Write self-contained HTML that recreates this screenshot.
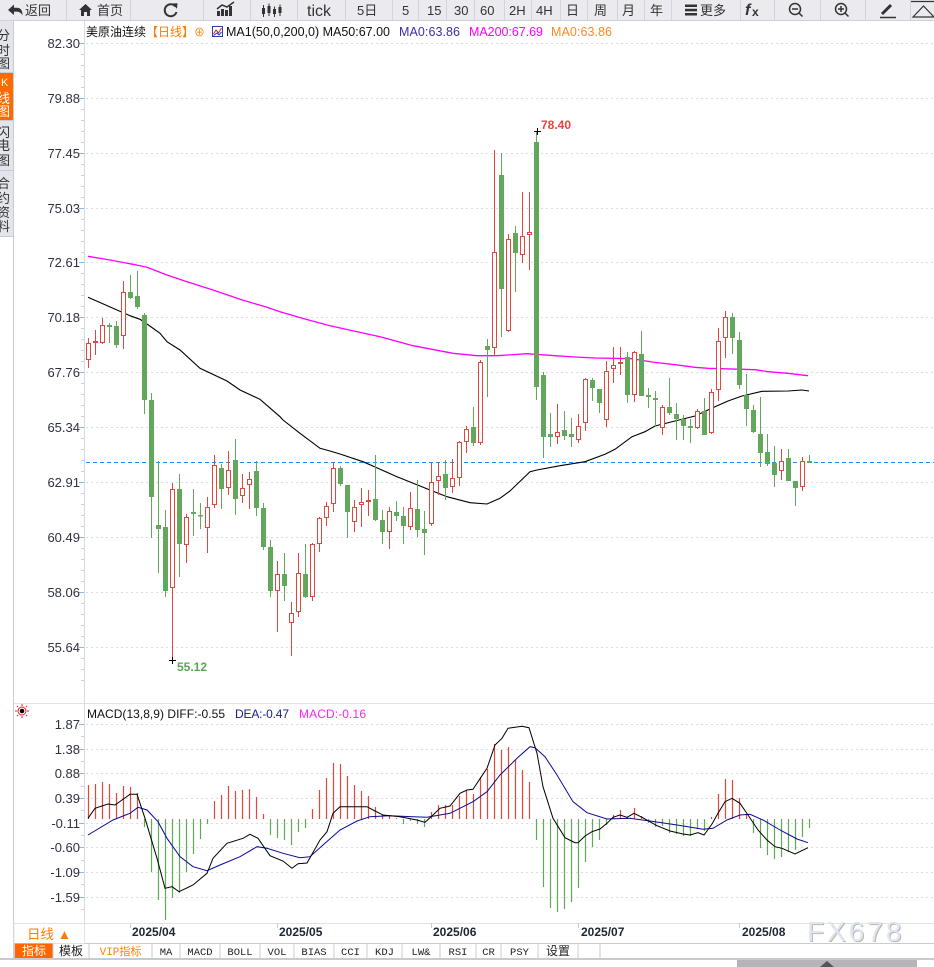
<!DOCTYPE html>
<html><head><meta charset="utf-8"><style>
html,body{margin:0;padding:0;background:#fff;}
body{width:934px;height:967px;overflow:hidden;}
svg{display:block;}
text{font-family:"Liberation Sans","Noto Sans CJK SC",sans-serif;}
.mono{font-family:"Liberation Mono","Noto Sans CJK SC",monospace;}
</style></head><body>
<svg width="934" height="967" viewBox="0 0 934 967" xmlns="http://www.w3.org/2000/svg">
<!-- toolbar -->
<rect x="0" y="0" width="934" height="20" fill="#ebebef"/>
<line x1="0" y1="20.5" x2="934" y2="20.5" stroke="#cfd0d8"/>
<g stroke="#d2d3db" stroke-width="1">
<path d="M66.5 0V20M130.5 0V20M203.5 0V20M250.5 0V20M297.5 0V20M345.5 0V20M392.5 0V20M418.5 0V20M446.5 0V20M474.5 0V20M504.5 0V20M531.5 0V20M560.5 0V20M587.5 0V20M617.5 0V20M644.5 0V20M671.5 0V20M740.5 0V20M774.5 0V20M820.5 0V20M865.5 0V20M910.5 0V20"/>
</g>
<g fill="#333">
<path d="M8 10 L14 4.5 V7.8 H17 Q22.5 8 22.5 15.5 Q20.5 11.6 17 11.6 H14 V15 Z"/>
<path d="M79 10 L85.5 4 L92 10 H90 V16 H87 V12 H84 V16 H81 V10 Z"/>
<rect x="217" y="11" width="3" height="5"/><rect x="221" y="9" width="3" height="7"/><rect x="225" y="10" width="3" height="6"/><rect x="229" y="6" width="3" height="10"/>
<rect x="262" y="8" width="3" height="6"/><rect x="267.5" y="6" width="3" height="7"/><rect x="273" y="9" width="3" height="5"/><rect x="278.5" y="7" width="3" height="6"/>
<rect x="685" y="4.5" width="12" height="2.5"/><rect x="685" y="8.8" width="12" height="2.5"/><rect x="685" y="13" width="12" height="2.5"/>
<path d="M172 3.5 L177.5 3.2 L177 8.8 Z"/>
</g>
<g stroke="#333" fill="none">
<polyline points="217,9 222,5 227,7 234,2" stroke-width="1.5"/>
<path d="M263.5 5V17M269 3.5V16M274.5 6.5V17M280 4.5V16" stroke-width="1"/>
<path d="M175.5 6.5 A6 6 0 1 0 176.5 12" stroke-width="2"/>
<circle cx="795" cy="9" r="5.5" stroke-width="1.5"/><path d="M792 9H798M799 13L802.5 16.5" stroke-width="1.5"/>
<circle cx="841" cy="9" r="5.5" stroke-width="1.5"/><path d="M838 9H844M841 6V12M845 13L848.5 16.5" stroke-width="1.5"/>
<path d="M882 14L891 5" stroke-width="3"/><path d="M880 17.5H896" stroke-width="1.5"/>
<polygon points="913,17 923.5,6 934,17" stroke-width="1.2"/><path d="M911 1.5H934" stroke-width="1.2"/>
</g>
<g font-size="13" fill="#333">
<text x="25" y="15">返回</text>
<text x="97" y="15">首页</text>
<text x="307" y="16" font-size="16">tick</text>
<text x="357" y="15">5日</text>
<text x="402" y="15">5</text>
<text x="427" y="15">15</text>
<text x="454" y="15">30</text>
<text x="480" y="15">60</text>
<text x="509" y="15">2H</text>
<text x="536" y="15">4H</text>
<text x="566" y="15">日</text>
<text x="594" y="15">周</text>
<text x="622" y="15">月</text>
<text x="650" y="15">年</text>
<text x="700" y="15">更多</text>
<text x="745" y="15" font-family="Liberation Serif,serif" font-style="italic" font-weight="bold" font-size="16">f</text>
<text x="752" y="16" font-weight="bold" font-size="12">x</text>
</g>
<!-- left sidebar -->
<rect x="0" y="21" width="13" height="215" fill="#e4e4ec"/>
<rect x="0" y="73" width="13" height="47" fill="#ff6a00"/>
<g stroke="#c9cbd4"><path d="M0 72.5H13M0 120.5H13M0 170.5H13M0 236.5H13"/></g>
<line x1="13.5" y1="21" x2="13.5" y2="960" stroke="#c8ccd4"/>
<g font-size="13" fill="#333">
<text x="-3" y="40">分</text><text x="-3" y="55">时</text><text x="-3" y="68">图</text>
<text x="1" y="86" fill="#fff" font-size="11" font-family="Liberation Serif,serif">K</text><text x="-3" y="103" fill="#fff">线</text><text x="-3" y="116" fill="#fff">图</text>
<text x="-3" y="137">闪</text><text x="-3" y="150">电</text><text x="-3" y="165">图</text>
<text x="-3" y="188">合</text><text x="-3" y="203">约</text><text x="-3" y="217">资</text><text x="-3" y="231">料</text>
</g>
<!-- axis line -->
<line x1="84.5" y1="21" x2="84.5" y2="943" stroke="#d3dde8"/>
<!-- main grid -->
<g stroke="#dcdcdc" stroke-dasharray="2,3">
<path d="M86 43.5H934M86 98.5H934M86 153.5H934M86 208.5H934M86 262.5H934M86 317.5H934M86 372.5H934M86 427.5H934M86 482.5H934M86 537.5H934M86 592.5H934M86 647.5H934"/>
</g>
<g stroke="#c7d3df">
<path d="M81 54.5H84M81 65.5H84M81 76.5H84M81 87.5H84M81 109.5H84M81 120.5H84M81 131.5H84M81 142.5H84M81 164.5H84M81 175.5H84M81 186.5H84M81 197.5H84M81 219.5H84M81 230.5H84M81 241.5H84M81 252.5H84M81 273.5H84M81 284.5H84M81 295.5H84M81 306.5H84M81 328.5H84M81 339.5H84M81 350.5H84M81 361.5H84M81 383.5H84M81 394.5H84M81 405.5H84M81 416.5H84M81 438.5H84M81 449.5H84M81 460.5H84M81 471.5H84M81 493.5H84M81 504.5H84M81 515.5H84M81 526.5H84M81 548.5H84M81 559.5H84M81 570.5H84M81 581.5H84M81 603.5H84M81 614.5H84M81 625.5H84M81 636.5H84M81 658.5H84M81 669.5H84M81 680.5H84"/>
</g>
<g stroke="#8fb6dc"><path d="M79 43.5H84M79 98.5H84M79 153.5H84M79 208.5H84M79 262.5H84M79 317.5H84M79 372.5H84M79 427.5H84M79 482.5H84M79 537.5H84M79 592.5H84M79 647.5H84"/></g>
<g font-size="13" fill="#2e3140" text-anchor="end">
<text x="80" y="48">82.30</text><text x="80" y="103">79.88</text><text x="80" y="158">77.45</text><text x="80" y="213">75.03</text><text x="80" y="267">72.61</text><text x="80" y="322">70.18</text><text x="80" y="377">67.76</text><text x="80" y="432">65.34</text><text x="80" y="487">62.91</text><text x="80" y="542">60.49</text><text x="80" y="597">58.06</text><text x="80" y="652">55.64</text>
</g>
<!-- legend -->
<g font-size="12.5">
<text x="86" y="36" font-size="12" textLength="60" fill="#111">美原油连续</text>
<text x="146" y="36" font-size="12" fill="#ff7a00">【日线】</text>
<text x="194" y="36" font-size="11" fill="#ff7a00">⊕</text>
<text x="226" y="36" fill="#111" textLength="164">MA1(50,0,200,0) MA50:67.00</text>
<text x="399" y="36" fill="#3a2ea8" textLength="61">MA0:63.86</text>
<text x="469" y="36" fill="#ff00ff" textLength="74">MA200:67.69</text>
<text x="551" y="36" fill="#ff8a1e" textLength="61">MA0:63.86</text>
</g>
<rect x="212.5" y="26.5" width="10" height="10" fill="#fff" stroke="#2244aa"/>
<polyline points="213.5,34 216,30 218.5,33 221.5,28" fill="none" stroke="#e02020"/>
<polyline points="213.5,35.5 217,33 219,35 221.5,32" fill="none" stroke="#2244cc"/>
<!-- dashed price line -->
<line x1="86" y1="462.5" x2="934" y2="462.5" stroke="#1a8cff" stroke-dasharray="4,3"/>
<!-- MA lines -->
<polyline fill="none" stroke="#ff00ff" stroke-width="1.3" points="88,256.3 110,260 133,264.3 147,267.3 167,275 187,281.7 213,290 240,299.3 267,307.3 280,311.7 305,319 330,325.7 380,336.7 413,345.7 453,353.3 477,355.7 497,355.7 527,353.7 555,355.7 575,357 595,358 632,358.7 652,362 675,364.7 695,367.3 708,368.3 755,369.7 768,371.7 788,373.3 808,375.7"/>
<polyline fill="none" stroke="#000" stroke-width="1.1" points="88,297.3 113,308.3 130,315.7 140,319.3 147,324 160,333.3 167,341.7 180,350 200,368.3 227,381 240,390 260,399.3 280,416.7 283,420 300,433.3 320,448.3 330,451 340,454 363,461.7 397,476.7 430,490 447,496.7 470,502.7 487,504 500,498.3 510,491 530,471.7 537,470 560,465.7 585,461.7 605,454.3 615,449.3 632,436.7 645,431.7 655,426 675,421 695,416 715,406.7 728,401 742,396 762,391.3 788,391 802,390 809,391"/>
<!-- green candles -->
<path fill="none" stroke="#62a75c" d="M109.5 323V343M116.5 321V348M130.5 275V299M137.5 271V309M144.5 313V414M151.5 393V538M158.5 461V573M165.5 510V597M179.5 474V577M193.5 489V536M200.5 503V529M221.5 464V509M235.5 439V515M256.5 461V516M263.5 503V550M270.5 540V597M284.5 553V601M305.5 544V598M340.5 466V486M347.5 485V538M375.5 455V521M382.5 510V544M396.5 501V521M403.5 507V544M417.5 480V537M424.5 511V555M445.5 460V500M473.5 407V446M487.5 339V397M501.5 153V337M515.5 226V292M536.5 132V400M543.5 372V458M550.5 413V447M564.5 411V440M571.5 418V447M592.5 378V401M599.5 389V413M627.5 352V403M641.5 331V396M648.5 388V408M655.5 391V427M669.5 378V415M676.5 403V440M683.5 415V440M690.5 419V443M704.5 398V435M732.5 313V354M739.5 332V389M746.5 374V426M753.5 405V433M760.5 397V467M767.5 434V466M774.5 446V487M788.5 449V481M795.5 481V506M809.5 455V463"/>
<g fill="#62a75c">
<rect x="107" y="325" width="5" height="2"/><rect x="114" y="326" width="5" height="19"/><rect x="128" y="292" width="5" height="6"/><rect x="135" y="296" width="5" height="11"/><rect x="142" y="315" width="5" height="85"/><rect x="149" y="400" width="5" height="97"/><rect x="156" y="525" width="5" height="4"/><rect x="163" y="527" width="5" height="64"/><rect x="177" y="489" width="5" height="55"/><rect x="191" y="512" width="5" height="2"/><rect x="198" y="515" width="5" height="1.5"/><rect x="219" y="468" width="5" height="21"/><rect x="233" y="460" width="5" height="39"/><rect x="254" y="471" width="5" height="37"/><rect x="261" y="508" width="5" height="39"/><rect x="268" y="547" width="5" height="44"/><rect x="282" y="574" width="5" height="12"/><rect x="303" y="574" width="5" height="23"/><rect x="338" y="468" width="5" height="16"/><rect x="345" y="485" width="5" height="27"/><rect x="373" y="499" width="5" height="21"/><rect x="380" y="520" width="5" height="12"/><rect x="394" y="512" width="5" height="4"/><rect x="401" y="516" width="5" height="10"/><rect x="415" y="509" width="5" height="21"/><rect x="422" y="529" width="5" height="4"/><rect x="443" y="474" width="5" height="14"/><rect x="471" y="427" width="5" height="16"/><rect x="485" y="346" width="5" height="4"/><rect x="499" y="175" width="5" height="114"/><rect x="513" y="233" width="5" height="20"/><rect x="534" y="142" width="5" height="245"/><rect x="541" y="375" width="5" height="62"/><rect x="548" y="434" width="5" height="3"/><rect x="562" y="430" width="5" height="6"/><rect x="569" y="434" width="5" height="3"/><rect x="590" y="380" width="5" height="8"/><rect x="597" y="389" width="5" height="14"/><rect x="625" y="357" width="5" height="38"/><rect x="639" y="354" width="5" height="42"/><rect x="646" y="395" width="5" height="2"/><rect x="653" y="398" width="5" height="2"/><rect x="667" y="407" width="5" height="6"/><rect x="674" y="414" width="5" height="5"/><rect x="681" y="419" width="5" height="7"/><rect x="688" y="426" width="5" height="2"/><rect x="702" y="411" width="5" height="24"/><rect x="730" y="317" width="5" height="21"/><rect x="737" y="340" width="5" height="45"/><rect x="744" y="395" width="5" height="14"/><rect x="751" y="410" width="5" height="22"/><rect x="758" y="434" width="5" height="19"/><rect x="765" y="452" width="5" height="12"/><rect x="772" y="463" width="5" height="12"/><rect x="786" y="458" width="5" height="23"/><rect x="793" y="481" width="5" height="7"/><rect x="807" y="461" width="5" height="2"/>
</g>
<!-- red candles -->
<path fill="none" stroke="#e2463c" d="M88.5 338V368M95.5 330V355M102.5 318V344M123.5 281V349M172.5 483V660M186.5 514V563M207.5 497V553M214.5 455V508M228.5 451V495M242.5 474V503M249.5 472V509M277.5 561V632M291.5 602V656M298.5 553V617M312.5 543V601M319.5 517V552M326.5 502V526M333.5 462V512M354.5 500V532M361.5 488V527M368.5 490V516M389.5 507V549M410.5 492V530M431.5 462V526M438.5 462V495M452.5 459V493M459.5 441V486M466.5 426V453M480.5 360V445M494.5 150V356M508.5 234V332M522.5 192V263M529.5 192V270M557.5 404V444M578.5 414V443M585.5 378V431M606.5 361V427M613.5 347V383M620.5 347V375M634.5 351V402M662.5 405V435M697.5 409V429M711.5 389V434M718.5 328V401M725.5 311V358M781.5 449V480M802.5 457V491"/>
<g fill="#fff" stroke="#e2463c">
<rect x="86.5" y="343.5" width="4" height="16"/><rect x="93.5" y="341.5" width="4" height="1"/><rect x="100.5" y="325.5" width="4" height="17"/><rect x="121.5" y="292.5" width="4" height="43"/><rect x="170.5" y="489.5" width="4" height="98"/><rect x="184.5" y="517.5" width="4" height="27"/><rect x="205.5" y="507.5" width="4" height="20"/><rect x="212.5" y="465.5" width="4" height="39"/><rect x="226.5" y="470.5" width="4" height="17"/><rect x="240.5" y="488.5" width="4" height="7"/><rect x="247.5" y="479.5" width="4" height="5"/><rect x="275.5" y="574.5" width="4" height="16"/><rect x="289.5" y="613.5" width="4" height="9"/><rect x="296.5" y="573.5" width="4" height="38"/><rect x="310.5" y="544.5" width="4" height="52"/><rect x="317.5" y="518.5" width="4" height="25"/><rect x="324.5" y="506.5" width="4" height="11"/><rect x="331.5" y="468.5" width="4" height="35"/><rect x="352.5" y="507.5" width="4" height="14"/><rect x="359.5" y="502.5" width="4" height="2"/><rect x="366.5" y="500.5" width="4" height="1"/><rect x="387.5" y="511.5" width="4" height="20"/><rect x="408.5" y="508.5" width="4" height="18"/><rect x="429.5" y="482.5" width="4" height="41"/><rect x="436.5" y="476.5" width="4" height="4"/><rect x="450.5" y="478.5" width="4" height="8"/><rect x="457.5" y="442.5" width="4" height="35"/><rect x="464.5" y="429.5" width="4" height="12"/><rect x="478.5" y="362.5" width="4" height="80"/><rect x="492.5" y="252.5" width="4" height="95"/><rect x="506.5" y="239.5" width="4" height="91"/><rect x="520.5" y="236.5" width="4" height="18"/><rect x="527.5" y="232.5" width="4" height="2"/><rect x="555.5" y="432.5" width="4" height="4"/><rect x="576.5" y="426.5" width="4" height="13"/><rect x="583.5" y="379.5" width="4" height="43"/><rect x="604.5" y="371.5" width="4" height="48"/><rect x="611.5" y="365.5" width="4" height="3"/><rect x="618.5" y="362.5" width="4" height="1"/><rect x="632.5" y="352.5" width="4" height="42"/><rect x="660.5" y="407.5" width="4" height="20"/><rect x="695.5" y="411.5" width="4" height="16"/><rect x="709.5" y="392.5" width="4" height="40"/><rect x="716.5" y="341.5" width="4" height="48"/><rect x="723.5" y="317.5" width="4" height="20"/><rect x="779.5" y="461.5" width="4" height="9"/><rect x="800.5" y="461.5" width="4" height="25"/>
</g>
<!-- extremes -->
<path d="M534 131.5H541M537.5 128V135M169 660.5H176M172.5 657V664" stroke="#000"/>
<text x="541" y="129" font-size="12" font-weight="bold" fill="#e2463c">78.40</text>
<text x="177" y="671" font-size="12" font-weight="bold" fill="#5fa35a">55.12</text>
<!-- MACD panel -->
<line x1="14" y1="703.5" x2="934" y2="703.5" stroke="#dde3ea"/>
<g transform="translate(22,711)">
<circle r="2.3" fill="#000"/><circle r="4" fill="none" stroke="#e02020" stroke-width="1"/>
<path d="M-7 0H-5M5 0H7M0 -7V-5M0 5V7M-5 -5L-4 -4M5 -5L4 -4M-5 5L-4 4M5 5L4 4" stroke="#e02020"/>
</g>
<g font-size="12">
<text x="87" y="718" fill="#111" textLength="138">MACD(13,8,9) DIFF:-0.55</text>
<text x="235" y="718" fill="#1a1a8c" textLength="54">DEA:-0.47</text>
<text x="299" y="718" fill="#ff22ff" textLength="67">MACD:-0.16</text>
</g>
<g stroke="#dcdcdc" stroke-dasharray="2,3">
<path d="M86 724.5H934M86 749.5H934M86 773.5H934M86 798.5H934M86 823.5H934M86 847.5H934M86 872.5H934M86 897.5H934"/>
</g>
<g stroke="#c7d3df"><path d="M81 736.5H84M81 761.5H84M81 786.5H84M81 810.5H84M81 835.5H84M81 860.5H84M81 884.5H84M81 909.5H84"/></g>
<g stroke="#8fb6dc"><path d="M79 724.5H84M79 749.5H84M79 773.5H84M79 798.5H84M79 823.5H84M79 847.5H84M79 872.5H84M79 897.5H84"/></g>
<g font-size="13" fill="#2e3140" text-anchor="end">
<text x="80" y="729">1.87</text><text x="80" y="754">1.38</text><text x="80" y="778">0.88</text><text x="80" y="803">0.39</text><text x="80" y="828">-0.11</text><text x="80" y="852">-0.60</text><text x="80" y="877">-1.09</text><text x="80" y="902">-1.59</text>
</g>
<!-- MACD bars -->
<path fill="none" stroke="#e2463c" stroke-width="1.2" d="M88.5 819V785M95.5 819V784M102.5 819V782M109.5 819V784M116.5 819V793M123.5 819V786M130.5 819V787M137.5 819V793M214.5 819V801M221.5 819V795M228.5 819V786M235.5 819V791M242.5 819V790M249.5 819V789M256.5 819V797M263.5 819V814M312.5 819V809M319.5 819V790M326.5 819V778M333.5 819V763M340.5 819V764M347.5 819V776M354.5 819V785M361.5 819V791M368.5 819V796M375.5 819V807M382.5 819V815M389.5 819V816M396.5 819V818M431.5 819V812M438.5 819V805M445.5 819V805M452.5 819V805M459.5 819V796M466.5 819V790M473.5 819V794M480.5 819V777M487.5 819V769M494.5 819V744M501.5 819V750M508.5 819V747M515.5 819V760M522.5 819V770M529.5 819V782M613.5 819V815M620.5 819V810M627.5 819V817M634.5 819V808M641.5 819V816M711.5 819V817M718.5 819V794M725.5 819V779M732.5 819V780M739.5 819V798M746.5 819V815"/>
<path fill="none" stroke="#62a75c" stroke-width="1.2" d="M144.5 819V827M151.5 819V872M158.5 819V900M165.5 819V920M172.5 819V898M179.5 819V893M186.5 819V872M193.5 819V854M200.5 819V839M207.5 819V824M270.5 819V835M277.5 819V838M284.5 819V840M291.5 819V845M298.5 819V832M305.5 819V828M403.5 819V824M410.5 819V821M417.5 819V824M424.5 819V827M536.5 819V840M543.5 819V887M550.5 819V908M557.5 819V912M564.5 819V909M571.5 819V902M578.5 819V888M585.5 819V862M592.5 819V847M599.5 819V840M606.5 819V825M648.5 819V823M655.5 819V827M662.5 819V826M669.5 819V833M676.5 819V834M683.5 819V836M690.5 819V836M697.5 819V829M704.5 819V831M753.5 819V833M760.5 819V848M767.5 819V855M774.5 819V859M781.5 819V857M788.5 819V852M795.5 819V850M802.5 819V837M809.5 819V828"/>
<!-- DEA -->
<polyline fill="none" stroke="#0a0a96" stroke-width="1" points="88,835 113,820 130,813.3 138,807.3 147,810 158,821.7 167,838.3 180,856.7 193,866.7 207,870.7 220,865 240,856.7 257,846.7 267,848.3 283,853.3 300,857.7 310,856.7 323,845 340,830 357,821 370,816.7 390,815.7 413,816.7 427,817.3 440,815 450,813.3 473,801.7 487,791.7 500,775 517,758.3 530,746.7 535,747.7 545,756.7 557,775 573,801.7 587,812.7 607,819 630,818.3 650,821 677,825 703,829.3 713,828.3 727,820 740,815 750,814.3 763,820 780,830 797,839 808,842.7"/>
<!-- DIFF -->
<polyline fill="none" stroke="#000" stroke-width="1" points="88,818.3 95,808.3 108,804 115,805 130,794.3 137,794.3 145,818.3 157,858.3 165,888.3 172,886.7 179,891.7 193,885 207,873.3 213,858.3 227,843.3 243,838.3 250,834.3 258,838.3 270,855.7 283,861 292,868.3 298,863.7 307,863 320,840 327,831.7 333,813.3 340,806.7 367,806.7 375,811 383,815 400,816.7 417,820 425,822.3 433,815 440,808.3 450,806 460,793.3 467,790 473,789.3 482,775.7 487,768.3 495,745 502,738.3 508,728.3 522,726.3 529,727.7 537,753.3 543,786.7 553,818.3 565,837.7 575,842.7 578,842.7 585,836 592,831.7 600,829 607,823.3 613,817.3 620,815 627,817.3 634,813.3 642,817.3 657,825.7 670,831 683,834 690,835 698,832.7 704,835 712,824 718,813.3 725,801.7 732,798.3 740,803.3 748,815 758,830 767,840 775,846.7 782,848.3 795,854 808,847.7"/>
<!-- date axis -->
<line x1="85" y1="923.5" x2="934" y2="923.5" stroke="#dfe3e8"/>
<line x1="14" y1="943.5" x2="934" y2="943.5" stroke="#c8ccd4"/>
<path d="M130.5 923V928M277.5 923V928M431.5 923V928M578.5 923V928M739.5 923V928" stroke="#c8ccd4"/>
<g font-size="12" font-weight="bold" fill="#1c2733">
<text x="132" y="936">2025/04</text><text x="279" y="936">2025/05</text><text x="433" y="936">2025/06</text><text x="581" y="936">2025/07</text><text x="742" y="936">2025/08</text>
</g>
<rect x="14" y="923.5" width="70.5" height="20" fill="#fff" stroke="#dfe3e8"/>
<text x="27" y="939" font-size="13.5" fill="#ff7a00">日线 ▲</text>
<!-- watermark -->
<text x="808" y="942" font-size="28" letter-spacing="3" fill="#c4b6a4">FX678</text>
<text x="807" y="941" font-size="28" letter-spacing="3" fill="#dbe7f5">FX678</text>
<!-- bottom tabs -->
<rect x="14.5" y="943.5" width="38.5" height="15" fill="#ff6600"/>
<g fill="none" stroke="#c8ccd4"><path d="M14.5 943V959M53 943V959M89 943V959M152 943V959M180 943V959M220 943V959M260 943V959M294 943V959M334 943V959M367 943V959M402 943V959M440 943V959M476 943V959M501 943V959M538 943V959M578 943V959M600 943V959"/></g>
<g font-size="12" text-anchor="middle" fill="#222">
<text x="34" y="955" fill="#fff">指标</text>
<text x="71" y="955">模板</text>
<text x="120.5" y="955" fill="#ff8000" class="mono" font-size="11">VIP指标</text>
<text x="166" y="955" class="mono" font-size="10.5">MA</text>
<text x="200" y="955" class="mono" font-size="10.5">MACD</text>
<text x="240" y="955" class="mono" font-size="10.5">BOLL</text>
<text x="277" y="955" class="mono" font-size="10.5">VOL</text>
<text x="314" y="955" class="mono" font-size="10.5">BIAS</text>
<text x="350.5" y="955" class="mono" font-size="10.5">CCI</text>
<text x="384.5" y="955" class="mono" font-size="10.5">KDJ</text>
<text x="421" y="955" class="mono" font-size="10.5">LW&amp;</text>
<text x="458" y="955" class="mono" font-size="10.5">RSI</text>
<text x="488.5" y="955" class="mono" font-size="10.5">CR</text>
<text x="519.5" y="955" class="mono" font-size="10.5">PSY</text>
<text x="558" y="955">设置</text>
</g>
<rect x="0" y="958" width="934" height="2" fill="#c6cad2"/>
<rect x="737" y="960" width="180" height="7" fill="#b5b5b9"/>
<polygon points="820,967 827,961 834,967" fill="#555"/>
</svg>
</body></html>
